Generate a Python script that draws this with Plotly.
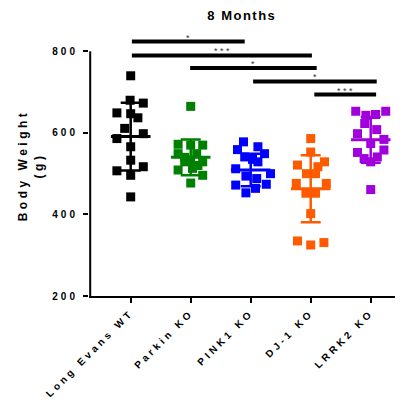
import plotly.graph_objects as go

categories = ["Long Evans WT", "Parkin KO", "PINK1 KO", "DJ-1 KO", "LRRK2 KO"]
colors = ["#000000", "#008000", "#0000FF", "#FF5A00", "#A000DC"]

wt_vals = [740, 680, 673, 649, 647, 637, 611, 598, 586, 566, 533, 517, 507, 496, 443]
wt_jit = [0, -0.01, 0.21, -0.23, 0, 0.12, -0.1, 0.21, -0.23, 0, 0, 0.21, -0.23, 0, 0]
parkin_vals = [665, 572, 570, 570, 549, 549, 540, 533, 529, 529, 520, 513, 509, 496, 477]
parkin_jit = [0, -0.21, 0, 0.2, -0.21, 0.1, -0.1, 0, -0.1, 0.2, 0.12, 0.03, -0.21, 0.2, 0]
pink1_vals = [578, 566, 559, 549, 541, 535, 529, 512, 500, 494, 488, 474, 472, 464, 453]
pink1_jit = [-0.12, 0.12, -0.22, 0.23, -0.1, 0.03, 0.12, -0.25, 0.33, -0.08, 0.1, 0.26, -0.25, 0.08, -0.08]
dj1_vals = [586, 553, 529, 521, 517, 500, 500, 476, 476, 452, 452, 402, 335, 325, 331]
dj1_jit = [0, 0, 0.23, -0.22, 0.12, -0.07, 0.08, -0.24, 0.26, -0.08, 0.08, 0, -0.22, 0, 0.22]
lrrk2_vals = [653, 653, 643, 645, 623, 608, 598, 584, 574, 558, 552, 537, 541, 529, 461]
lrrk2_jit = [-0.25, 0.25, -0.08, 0.08, -0.1, 0.1, -0.22, 0.22, 0, 0.22, -0.22, -0.11, 0.11, 0, 0]

group_vals = [wt_vals, parkin_vals, pink1_vals, dj1_vals, lrrk2_vals]
group_jit = [wt_jit, parkin_jit, pink1_jit, dj1_jit, lrrk2_jit]

means = [591, 540, 509, 463, 583]
sds = [83, 44, 40, 82, 56]

# significance comparisons: start, end (category positions), level, label
sig_start = [0.02, 0.02, 0.99, 2.04, 3.06]
sig_end = [1.9, 3.02, 3.1, 4.1, 4.09]
sig_y = [824, 790, 759, 726, 694]
sig_label = ["*", "* * *", "*", "*", "* * *"]

fig = go.Figure()

for i, (vals, jit) in enumerate(zip(group_vals, group_jit)):
    fig.add_trace(go.Scatter(
        x=[i + j for j in jit], y=vals, mode="markers",
        marker=dict(symbol="square", size=9, color=colors[i], line=dict(width=0)),
        showlegend=False, hoverinfo="y"))

for i in range(len(categories)):
    fig.add_trace(go.Scatter(
        x=[i], y=[means[i]], mode="markers", marker=dict(size=0.1, color=colors[i], opacity=0),
        error_y=dict(type="data", array=[sds[i]], color=colors[i], thickness=2.5, width=10),
        showlegend=False, hoverinfo="skip"))
    fig.add_trace(go.Scatter(
        x=[i - 0.33, i + 0.33], y=[means[i], means[i]], mode="lines",
        line=dict(color=colors[i], width=3), showlegend=False, hoverinfo="skip"))

# y axis line only spanning tick range
fig.add_trace(go.Scatter(x=[-0.675, -0.675], y=[200, 800], mode="lines",
                         line=dict(color="black", width=2), showlegend=False, hoverinfo="skip"))

for s, e, yv, lab in zip(sig_start, sig_end, sig_y, sig_label):
    fig.add_shape(type="line", xref="x", yref="y", x0=s, x1=e, y0=yv, y1=yv,
                  line=dict(color="black", width=4))
    fig.add_annotation(x=(s + e) / 2, y=yv, xref="x", yref="y", text=lab, showarrow=False,
                       yanchor="bottom", yshift=-3, font=dict(size=9, color="#333333"))

sp = lambda t, ls: f'<span style="letter-spacing:{ls}px">{t}</span>'

fig.update_layout(
    template="none",
    width=395, height=397,
    margin=dict(l=81, r=3, t=27, b=109, pad=0),
    paper_bgcolor="white", plot_bgcolor="white",
    font=dict(family="Liberation Sans, Arial, sans-serif", color="black"),
    title=dict(text="<b>" + sp("8 Months", 1.5) + "</b>", x=0.592, xanchor="center", y=0.98, yanchor="middle",
               font=dict(size=13, color="black")),
    xaxis=dict(range=[-0.695, 4.488], tickmode="array", tickvals=list(range(len(categories))),
               ticktext=["<b>" + sp(c, 3.4) + "</b>" for c in categories], tickangle=-45,
               showline=True, linecolor="black", linewidth=2, ticks="outside", ticklen=5,
               tickwidth=2, tickcolor="black", showgrid=False, zeroline=False, automargin=False,
               tickfont=dict(size=10, color="black")),
    yaxis=dict(range=[200, 840], tickmode="array", tickvals=[200, 400, 600, 800],
               ticktext=["<b>" + sp(str(v), 3) + "</b>" for v in [200, 400, 600, 800]],
               showline=False, ticks="outside", ticklen=5, tickwidth=2, tickcolor="black",
               ticklabelstandoff=3,
               showgrid=False, zeroline=False, automargin=False, tickfont=dict(size=10, color="black"),
               title=dict(text="<b>" + sp("Body Weight", 3.5) + "<br>" + sp("(g)", 3.5) + "</b>",
                          font=dict(size=12, color="black"), standoff=6)),
)

fig.write_html("out.html")
